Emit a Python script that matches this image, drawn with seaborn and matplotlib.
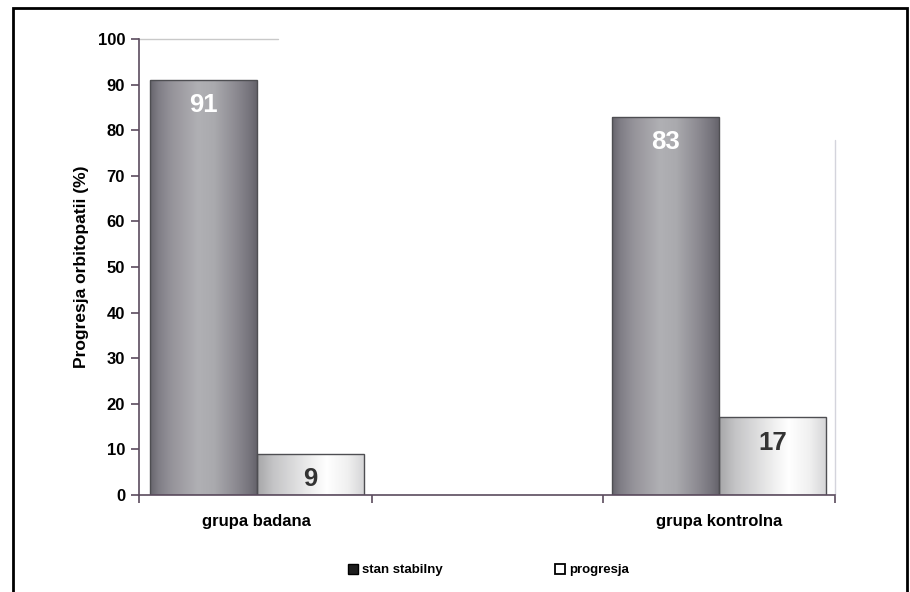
import numpy as np
import pandas as pd
import matplotlib
matplotlib.use("Agg")
import matplotlib.pyplot as plt
from matplotlib.colors import LinearSegmentedColormap
from matplotlib.patches import Patch, Rectangle
import seaborn as sns

# Data
groups = ["grupa badana", "grupa kontrolna"]
statuses = ["stan stabilny", "progresja"]
stable_pct = [91, 83]
progress_pct = [9, 17]
y_ticks = [0, 10, 20, 30, 40, 50, 60, 70, 80, 90, 100]

df = pd.DataFrame({
    "grupa": groups * 2,
    "stan": [statuses[0]] * 2 + [statuses[1]] * 2,
    "procent": stable_pct + progress_pct,
})

sns.set_theme(style="white")
plt.rcParams["font.family"] = ["Liberation Sans", "DejaVu Sans"]
plt.rcParams["text.color"] = "black"
plt.rcParams["axes.labelcolor"] = "black"
plt.rcParams["xtick.labelcolor"] = "black"
plt.rcParams["ytick.labelcolor"] = "black"

axis_col = "#5b4b5e"
fig = plt.figure(figsize=(9.10, 5.92), dpi=100)
ax = fig.add_axes([0.1527, 0.1639, 0.7649, 0.7702])

sns.barplot(data=df, x="grupa", y="procent", hue="stan", order=groups,
            hue_order=statuses, palette=["#8c8a90", "#eeeeee"], width=0.463,
            edgecolor="#4e4e52", linewidth=1.0, legend=False, ax=ax)

# Cylinder-like shading on every bar
dark_cmap = LinearSegmentedColormap.from_list("dark", [
    (0.0, "#66646c"), (0.08, "#807e86"), (0.2, "#95939a"), (0.45, "#b0b0b4"),
    (0.6, "#aaaaae"), (0.8, "#8d8b92"), (0.92, "#78767e"), (1.0, "#66646c")])
light_cmap = LinearSegmentedColormap.from_list("light", [
    (0.0, "#a6a6a8"), (0.15, "#c4c4c6"), (0.5, "#eeeeee"), (0.65, "#ffffff"),
    (0.85, "#f0f0f0"), (1.0, "#d6d6d8")])
grad = np.linspace(0, 1, 256).reshape(1, -1)

for container, cmap, txt_col in zip(ax.containers, [dark_cmap, light_cmap],
                                     ["white", "#333333"]):
    for patch in container.patches:
        x0, y0 = patch.get_x(), patch.get_y()
        w, h = patch.get_width(), patch.get_height()
        im = ax.imshow(grad, cmap=cmap, aspect="auto", extent=[x0, x0 + w, y0, y0 + h],
                       zorder=patch.get_zorder(), interpolation="bicubic")
        im.set_clip_path(patch)
        patch.set_facecolor("none")
        patch.set_zorder(patch.get_zorder() + 0.5)
        ax.text(x0 + w / 2, h - 5.5, f"{h:g}", ha="center", va="center",
                fontsize=18.5, fontweight="bold", color=txt_col, zorder=5)

xl, xr = -0.255, 1.251
ax.set_xlim(xl, xr)
ax.set_ylim(0, 100)

# faint remnants of the plot-area frame
ax.plot([xl, 0.045], [100, 100], color="#c9c9c9", lw=1, zorder=1, clip_on=False)
ax.plot([xr, xr], [0, 77.8], color="#d4d4dc", lw=1, zorder=1, clip_on=False)

for s in ["top", "right"]:
    ax.spines[s].set_visible(False)
for s in ["left", "bottom"]:
    ax.spines[s].set_color(axis_col)
    ax.spines[s].set_linewidth(1.2)

ax.set_yticks(y_ticks)
ax.set_yticklabels([str(t) for t in y_ticks], fontsize=12, fontweight="bold")
ax.tick_params(axis="y", direction="out", length=6, width=1.2, color=axis_col,
               pad=4, left=True)
ax.set_xticks([0, 1])
ax.set_xticklabels(groups, fontsize=12, fontweight="bold")
ax.set_xticks([xl, 0.25, 0.75, xr], minor=True)
ax.tick_params(axis="x", which="major", length=0, pad=14)
ax.tick_params(axis="x", which="minor", direction="out", length=6, width=1.2,
               color=axis_col, bottom=True)
ax.set_xlabel("")
ax.set_ylabel("Progresja orbitopatii (%)", fontsize=12.5, fontweight="bold", labelpad=6)

handles = [Patch(facecolor="#1e1e1e", edgecolor="black", label=statuses[0]),
           Patch(facecolor="white", edgecolor="black", linewidth=1.3, label=statuses[1])]
leg = fig.legend(handles=handles, loc="center", bbox_to_anchor=(0.537, 0.037), ncol=2,
                 frameon=False, handlelength=0.75, handleheight=0.75, handletextpad=0.3,
                 columnspacing=8.5, prop={"size": 9.5, "weight": "bold"})

# outer frame of the figure (open at the bottom edge)
fig.add_artist(Rectangle((13 / 910, -0.1), (907 - 13) / 910, 1.1 - 8 / 592,
                         transform=fig.transFigure, fill=False, edgecolor="black",
                         linewidth=2, clip_on=False))

fig.savefig("out.png", dpi=100, facecolor="white")
